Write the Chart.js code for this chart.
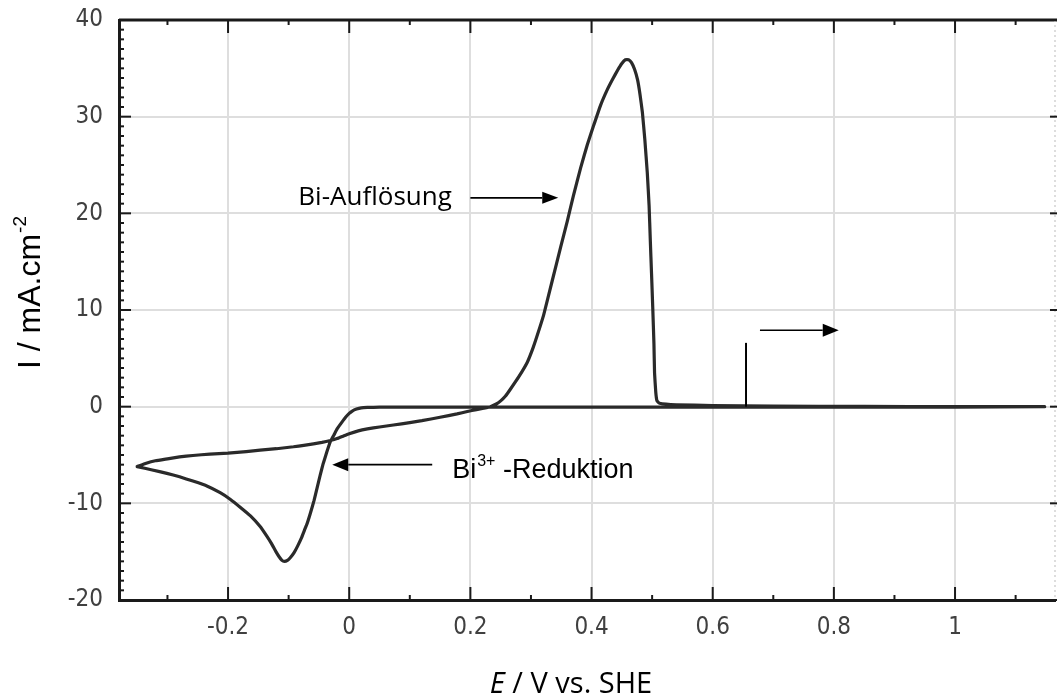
<!DOCTYPE html>
<html><head><meta charset="utf-8">
<script src="https://cdn.jsdelivr.net/npm/chart.js@4/dist/chart.umd.min.js"></script>
<style>html,body{margin:0;padding:0;background:#fff;overflow:hidden}</style>
</head><body>
<canvas id="c" width="1057" height="700"></canvas>
<script>
// ---- data (cyclic voltammogram) ----
const potentialE = [
 -0.350,-0.335,-0.320,-0.300,-0.280,-0.258,-0.230,-0.200,-0.170,-0.147,
 -0.120,-0.092,-0.075,-0.059,-0.045,-0.031,-0.020,-0.010, 0.000, 0.015,
  0.030, 0.050, 0.073, 0.100, 0.120, 0.150, 0.178, 0.195, 0.210, 0.222,
  0.233, 0.242, 0.250, 0.258, 0.266, 0.280, 0.294, 0.303, 0.310, 0.321,
  0.335, 0.349, 0.360, 0.370, 0.382, 0.393, 0.403, 0.415, 0.426, 0.435,
  0.443, 0.450, 0.456, 0.461, 0.466, 0.471, 0.476, 0.480, 0.484, 0.488,
  0.492, 0.495, 0.497, 0.499, 0.501, 0.503, 0.504, 0.506, 0.508, 0.512,
  0.540, 0.600, 0.700, 0.850, 1.000, 1.148,
  1.000, 0.800, 0.600, 0.400, 0.200, 0.050, 0.030, 0.020, 0.012, 0.005,
  0.000,-0.006,-0.012,-0.020,-0.025,-0.031,-0.037,-0.043,-0.048,-0.053,
 -0.058,-0.064,-0.069,-0.074,-0.079,-0.085,-0.091,-0.097,-0.102,-0.107,
 -0.111,-0.116,-0.121,-0.128,-0.136,-0.147,-0.163,-0.180,-0.196,-0.213,
 -0.235,-0.258,-0.280,-0.301,-0.325,-0.350
];
const currentI = [
 -6.2,-5.85,-5.6,-5.4,-5.2,-5.05,-4.9,-4.8,-4.65,-4.5,
 -4.35,-4.15,-4.0,-3.85,-3.7,-3.5,-3.3,-3.05,-2.8,-2.5,
 -2.3,-2.1,-1.9,-1.65,-1.45,-1.1,-0.75,-0.5,-0.3,-0.15,
  0.0,0.25,0.6,1.1,1.8,3.1,4.6,6.0,7.3,9.5,
 13.0,16.5,19.2,21.8,24.7,27.1,29.0,31.2,32.8,33.9,
 34.8,35.5,35.9,35.9,35.6,34.9,33.8,32.3,30.4,27.6,
 24.2,20.8,17.2,13.8,10.3,6.5,3.5,1.5,0.6,0.35,
  0.2,0.12,0.05,0.02,0.0,0.0,
 -0.05,-0.05,-0.05,-0.05,-0.05,-0.05,-0.08,-0.12,-0.25,-0.45,
 -0.7,-1.1,-1.6,-2.3,-2.9,-3.6,-4.7,-5.9,-7.1,-8.4,
 -9.7,-11.0,-12.0,-12.8,-13.6,-14.4,-15.1,-15.6,-15.9,-16.0,
 -15.9,-15.5,-15.0,-14.2,-13.4,-12.4,-11.3,-10.4,-9.6,-8.9,
 -8.2,-7.7,-7.25,-6.9,-6.55,-6.2
];
const xTickValues = [-0.2,0,0.2,0.4,0.6,0.8,1];
const xTickLabels = ['-0.2','0','0.2','0.4','0.6','0.8','1'];
const yTickValues = [-20,-10,0,10,20,30,40];
const yTickLabels = ['-20','-10','0','10','20','30','40'];
const xLimits = [-0.38, 1.165];
const yLimits = [-20, 40];
const xMinorStep = 0.1;
const yMinorStep = 1;
const xAxisTitle = ['E', ' / V vs. SHE'];
const yAxisTitle = ['I / mA.cm', '-2'];
// annotations (data units)
const dissolutionLabel = {text:'Bi-Auflösung', x:-0.084, y:21.6, arrowFrom:0.20, arrowTo:0.345};
const reductionLabel = {main:'Bi', sup:'3+', rest:' -Reduktion', x:0.170, y:-6.5, arrowFrom:0.137, arrowTo:-0.028, arrowY:-6.0};
const scanMarker = {x:0.655, yFrom:0, yTo:6.6};
const scanArrow = {from:0.678, to:0.808, y:7.9};

const tickFont = "'DejaVu Sans Condensed', 'Liberation Sans Narrow', 'DejaVu Sans', sans-serif";

function arrow(ctx, x1, y1, x2, y2, headLen, headW){
  const ang = Math.atan2(y2-y1, x2-x1);
  const bx = x2 - headLen*Math.cos(ang), by = y2 - headLen*Math.sin(ang);
  ctx.beginPath(); ctx.moveTo(x1,y1); ctx.lineTo(bx,by); ctx.stroke();
  ctx.beginPath();
  ctx.moveTo(x2,y2);
  ctx.lineTo(bx + headW/2*Math.sin(ang), by - headW/2*Math.cos(ang));
  ctx.lineTo(bx - headW/2*Math.sin(ang), by + headW/2*Math.cos(ang));
  ctx.closePath(); ctx.fill();
}

const framePlugin = {
  id:'frame',
  afterDraw(chart){
    const ctx = chart.ctx, a = chart.chartArea, xs = chart.scales.x, ys = chart.scales.y;
    ctx.save();
    ctx.strokeStyle = '#1a1a1a'; ctx.lineWidth = 3;
    ctx.beginPath(); ctx.moveTo(a.left, a.top); ctx.lineTo(chart.width, a.top); ctx.stroke();
    ctx.strokeStyle = '#bbbbbb'; ctx.lineWidth = 1; ctx.setLineDash([2,3]);
    ctx.beginPath(); ctx.moveTo(a.right, a.top); ctx.lineTo(a.right, a.bottom); ctx.stroke();
    ctx.setLineDash([]);
    ctx.strokeStyle = '#1a1a1a'; ctx.lineWidth = 2;
    const k0 = Math.ceil(xLimits[0]/xMinorStep - 1e-6), k1 = Math.floor(xLimits[1]/xMinorStep + 1e-6);
    for(let k=k0;k<=k1;k++){
      const px = xs.getPixelForValue(k*xMinorStep);
      const len = (k%2===0) ? 13 : 5;
      ctx.beginPath(); ctx.moveTo(px, a.bottom); ctx.lineTo(px, a.bottom-len); ctx.stroke();
      ctx.beginPath(); ctx.moveTo(px, a.top); ctx.lineTo(px, a.top+len); ctx.stroke();
    }
    for(let v=yLimits[0]; v<=yLimits[1]; v+=yMinorStep){
      const py = ys.getPixelForValue(v);
      const len = (v%10===0) ? 12 : 5;
      ctx.beginPath(); ctx.moveTo(a.left, py); ctx.lineTo(a.left+len, py); ctx.stroke();
    }
    yTickValues.forEach(v=>{
      const py = ys.getPixelForValue(v);
      ctx.beginPath(); ctx.moveTo(a.right-5, py); ctx.lineTo(a.right+2, py); ctx.stroke();
    });

    // annotations
    ctx.fillStyle = '#000'; ctx.strokeStyle = '#000'; ctx.lineWidth = 1.6;
    ctx.font = "26px 'Open Sans', 'Noto Sans', sans-serif";
    ctx.textBaseline = 'middle'; ctx.textAlign = 'left';
    ctx.fillText(dissolutionLabel.text, xs.getPixelForValue(dissolutionLabel.x), ys.getPixelForValue(dissolutionLabel.y));
    arrow(ctx, xs.getPixelForValue(dissolutionLabel.arrowFrom), ys.getPixelForValue(dissolutionLabel.y),
               xs.getPixelForValue(dissolutionLabel.arrowTo), ys.getPixelForValue(dissolutionLabel.y), 16, 12);
    arrow(ctx, xs.getPixelForValue(reductionLabel.arrowFrom), ys.getPixelForValue(reductionLabel.arrowY),
               xs.getPixelForValue(reductionLabel.arrowTo), ys.getPixelForValue(reductionLabel.arrowY), 16, 13);
    let tx = xs.getPixelForValue(reductionLabel.x), ty = ys.getPixelForValue(reductionLabel.y);
    ctx.font = "27px 'Liberation Sans', Arial, sans-serif";
    ctx.textBaseline = 'alphabetic';
    const base = ty + 8;
    ctx.fillText(reductionLabel.main, tx, base); tx += ctx.measureText(reductionLabel.main).width + 1;
    ctx.font = "16px 'Liberation Sans', Arial, sans-serif";
    ctx.fillText(reductionLabel.sup, tx, base - 12); tx += ctx.measureText(reductionLabel.sup).width;
    ctx.font = "27px 'Liberation Sans', Arial, sans-serif";
    ctx.fillText(reductionLabel.rest, tx, base);
    ctx.lineWidth = 2;
    ctx.beginPath();
    ctx.moveTo(xs.getPixelForValue(scanMarker.x), ys.getPixelForValue(scanMarker.yFrom));
    ctx.lineTo(xs.getPixelForValue(scanMarker.x), ys.getPixelForValue(scanMarker.yTo));
    ctx.stroke();
    ctx.lineWidth = 1.6;
    arrow(ctx, xs.getPixelForValue(scanArrow.from), ys.getPixelForValue(scanArrow.y),
               xs.getPixelForValue(scanArrow.to), ys.getPixelForValue(scanArrow.y), 16, 13);

    // axis titles
    ctx.textBaseline = 'alphabetic';
    ctx.font = "italic 29px 'Open Sans', 'Noto Sans', sans-serif";
    const w1 = ctx.measureText(xAxisTitle[0]).width;
    ctx.font = "29px 'Open Sans', 'Noto Sans', sans-serif";
    const w2 = ctx.measureText(xAxisTitle[1]).width;
    let sx = 571 - (w1+w2)/2;
    ctx.font = "italic 29px 'Open Sans', 'Noto Sans', sans-serif";
    ctx.fillText(xAxisTitle[0], sx, 693);
    ctx.font = "29px 'Open Sans', 'Noto Sans', sans-serif";
    ctx.fillText(xAxisTitle[1], sx + w1, 693);
    ctx.save();
    ctx.translate(40, 293);
    ctx.rotate(-Math.PI/2);
    ctx.font = "32px 'Liberation Sans', Arial, sans-serif";
    const m1 = ctx.measureText(yAxisTitle[0]).width;
    ctx.font = "19px 'Liberation Sans', Arial, sans-serif";
    const m2 = ctx.measureText(yAxisTitle[1]).width;
    const start = -(m1+m2)/2;
    ctx.font = "32px 'Liberation Sans', Arial, sans-serif";
    ctx.fillText(yAxisTitle[0], start, 0);
    ctx.font = "19px 'Liberation Sans', Arial, sans-serif";
    ctx.fillText(yAxisTitle[1], start + m1 + 1, -14);
    ctx.restore();
    ctx.restore();
  }
};

const points = potentialE.map((e,i)=>({x:e, y:currentI[i]}));

new Chart(document.getElementById('c'), {
  type:'scatter',
  data:{ datasets:[{
    data: points, showLine:true, borderColor:'#2a2a2a', borderWidth:3.2,
    pointRadius:0, tension:0.1, fill:false, borderJoinStyle:'round', borderCapStyle:'round'
  }]},
  options:{
    responsive:false, animation:false, devicePixelRatio:1,
    layout:{ padding:{ top:20, right:2, left:0, bottom:0 } },
    plugins:{ legend:{display:false}, tooltip:{enabled:false} },
    scales:{
      x:{
        type:'linear', min:xLimits[0], max:xLimits[1],
        afterBuildTicks: s => { s.ticks = xTickValues.map(v=>({value:v})); },
        afterFit: s => { s.height = 100; s.paddingLeft = 0; s.paddingRight = 0; },
        ticks:{ callback:(v)=>{ const i = xTickValues.findIndex(t=>Math.abs(t-v)<1e-6); return i>=0 ? xTickLabels[i] : ''; },
                font:{ family:tickFont, size:24 }, color:'#404040', padding:13, maxRotation:0, autoSkip:false },
        grid:{ color:'#dedede', lineWidth:2, drawTicks:false },
        border:{ color:'#1a1a1a', width:3 }
      },
      y:{
        type:'linear', min:yLimits[0], max:yLimits[1],
        afterBuildTicks: s => { s.ticks = yTickValues.map(v=>({value:v})); },
        afterFit: s => { s.width = 119; s.paddingTop = 0; s.paddingBottom = 0; },
        ticks:{ callback:(v)=>{ const i = yTickValues.indexOf(v); return i>=0 ? yTickLabels[i] : ''; },
                font:{ family:tickFont, size:24 }, color:'#404040', padding:16 },
        grid:{ color:'#dedede', lineWidth:2, drawTicks:false },
        border:{ color:'#1a1a1a', width:3 }
      }
    }
  },
  plugins:[framePlugin]
});
</script>
</body></html>
